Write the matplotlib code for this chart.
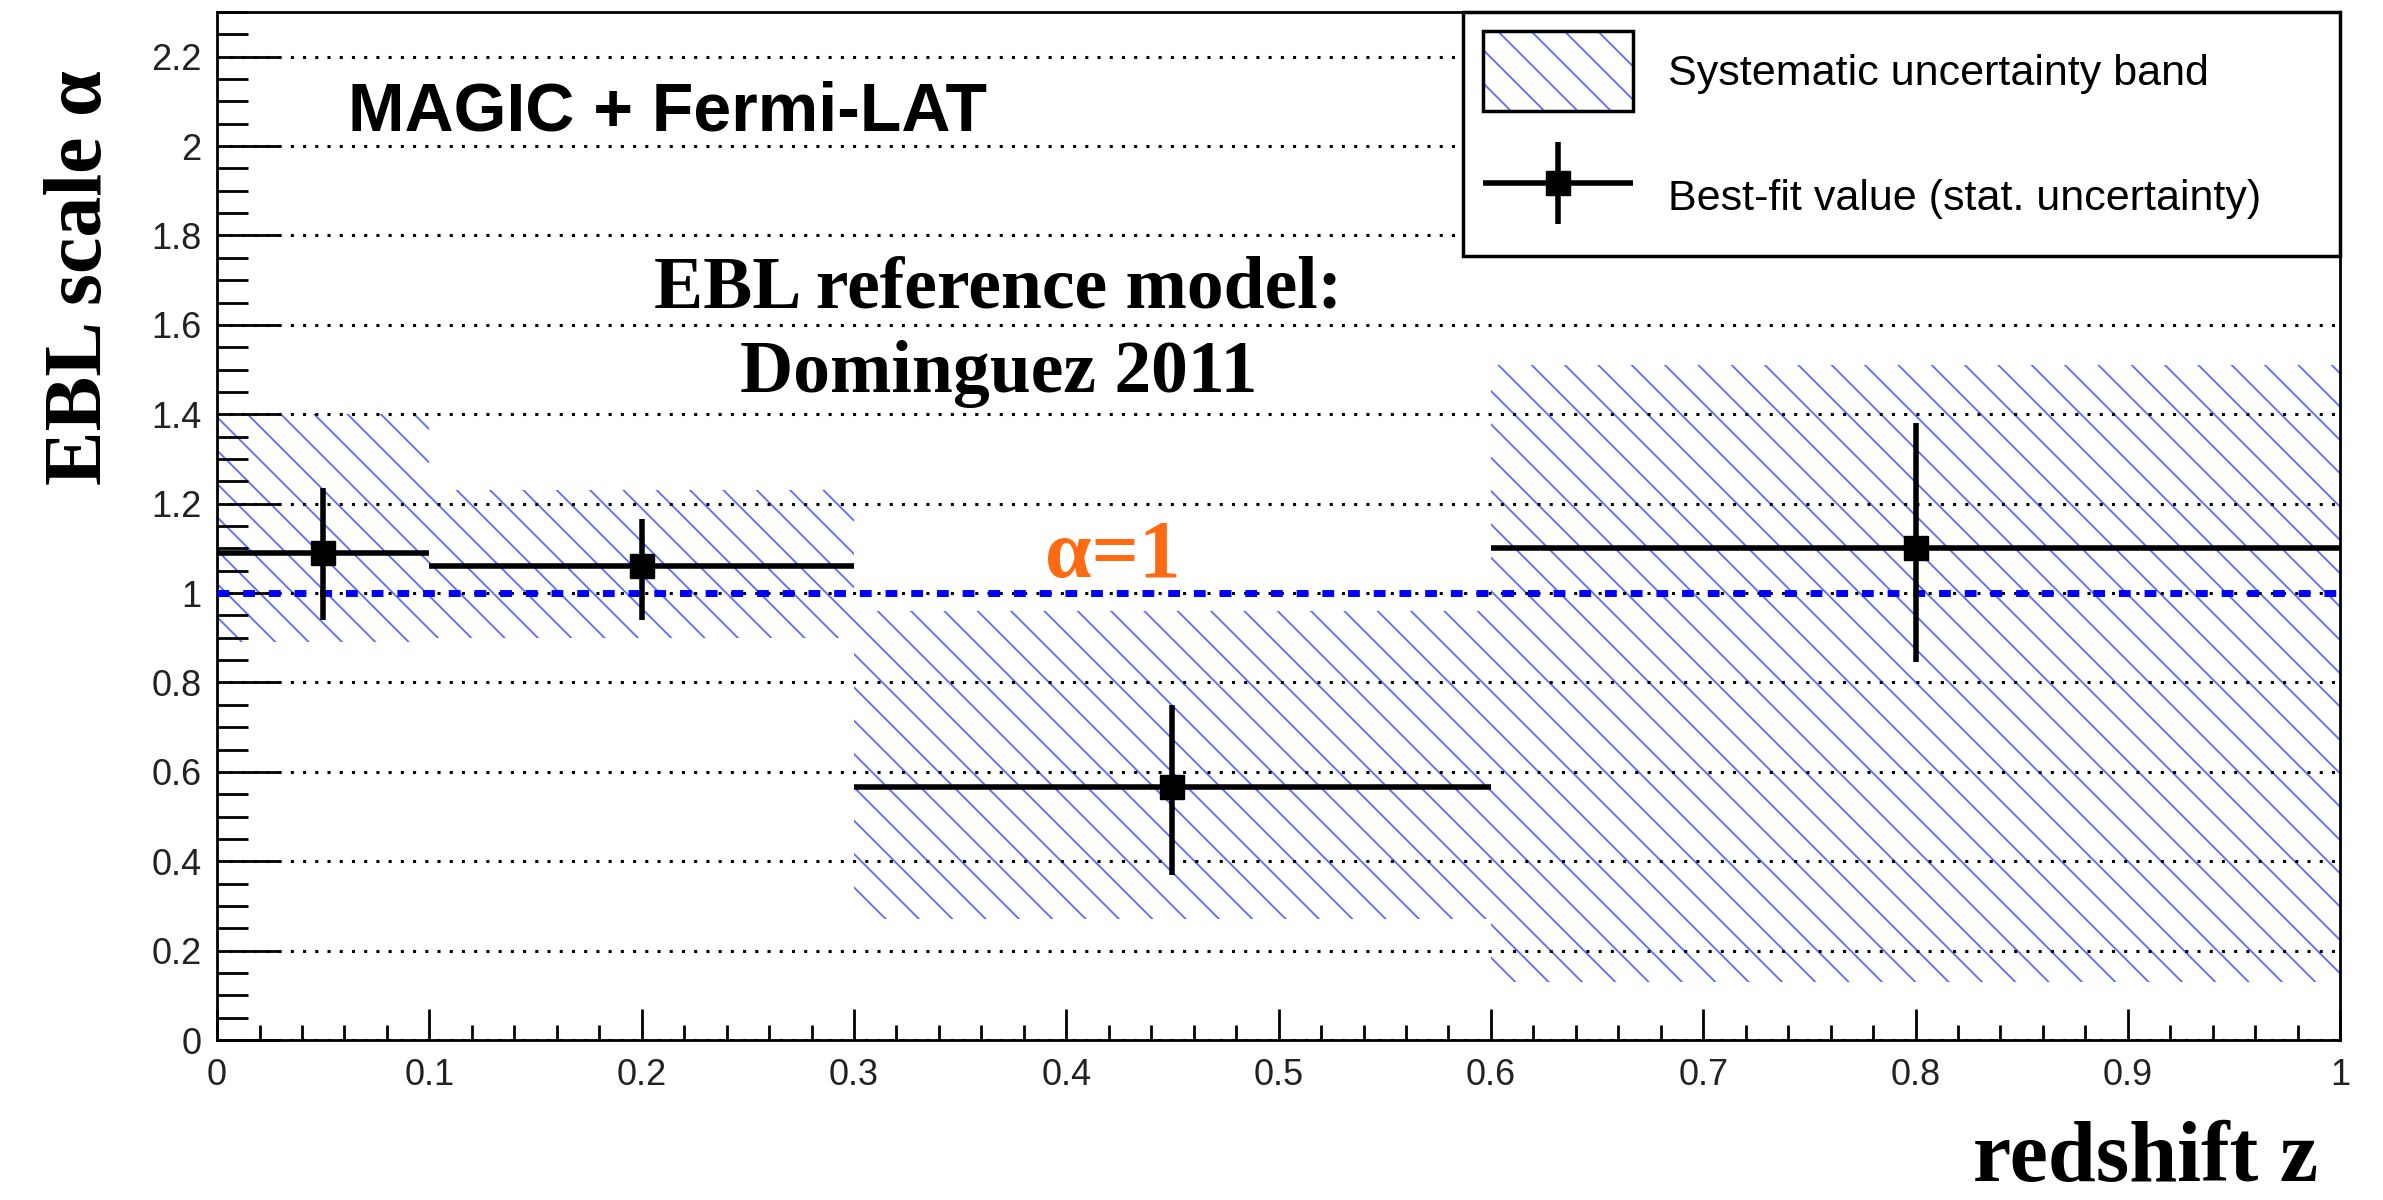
import numpy as np
import matplotlib.pyplot as plt
from matplotlib.patches import Patch
from matplotlib.container import ErrorbarContainer
from matplotlib.legend_handler import HandlerErrorbar, HandlerTuple
from matplotlib.ticker import MultipleLocator, FuncFormatter

# redshift bins
z_lo = [0.0, 0.1, 0.3, 0.6]
z_hi = [0.1, 0.3, 0.6, 1.0]
z_mid = [0.05, 0.2, 0.45, 0.8]
# best-fit EBL scale and stat. errors
alpha_best = [1.09, 1.06, 0.565, 1.10]
stat_lo = [0.15, 0.12, 0.195, 0.255]
stat_hi = [0.145, 0.105, 0.185, 0.28]
# systematic band
sys_lo = [0.89, 0.90, 0.27, 0.13]
sys_hi = [1.40, 1.23, 0.96, 1.51]

hatch_col = '#5b6cff'
plt.rcParams['font.family'] = ['Liberation Sans', 'DejaVu Sans']
plt.rcParams['hatch.linewidth'] = 1.3

fig = plt.figure(figsize=(23.83, 12.0), dpi=100)
ax = fig.add_axes([0.0911, 0.1333, 0.8909, 0.8567])

widths = np.array(z_hi) - np.array(z_lo)
heights = np.array(sys_hi) - np.array(sys_lo)
ax.bar(z_lo, heights, width=widths, bottom=sys_lo, align='edge',
       facecolor='none', edgecolor=hatch_col, linewidth=0, hatch='\\', zorder=1)

ax.yaxis.grid(True, which='major', color='black', linestyle=(0, (1, 3)), linewidth=2.2)
ax.axhline(1.0, color='#0000ff', linewidth=5, linestyle=(0, (1.7, 2.0)), zorder=3)

xerr = np.array(z_hi) - np.array(z_mid)
eb = ax.errorbar(z_mid, alpha_best, xerr=xerr, yerr=[stat_lo, stat_hi], fmt='s',
                 color='black', markersize=17, elinewidth=4, capsize=0, zorder=4)

ax.set_xlim(0, 1)
ax.set_ylim(0, 2.3)
ax.xaxis.set_major_locator(MultipleLocator(0.1))
ax.xaxis.set_minor_locator(MultipleLocator(0.02))
ax.yaxis.set_major_locator(MultipleLocator(0.2))
ax.yaxis.set_minor_locator(MultipleLocator(0.05))
fmt = FuncFormatter(lambda v, p: f'{v:g}')
ax.xaxis.set_major_formatter(fmt)
ax.yaxis.set_major_formatter(fmt)
ax.tick_params(axis='y', which='major', direction='in', length=45, width=2, pad=11,
               labelsize=26, labelcolor='#222222')
ax.tick_params(axis='y', which='minor', direction='in', length=22, width=2)
ax.tick_params(axis='x', which='major', direction='in', length=22, width=2, pad=13,
               labelsize=26, labelcolor='#222222')
ax.tick_params(axis='x', which='minor', direction='in', length=11, width=2)
for s in ax.spines.values():
    s.set_linewidth(2)

sys_handle = (Patch(facecolor='white', edgecolor=hatch_col, hatch='\\', linewidth=0),
              Patch(facecolor='none', edgecolor='black', linewidth=2.5))
leg = ax.legend([sys_handle, eb],
                ['Systematic uncertainty band', 'Best-fit value (stat. uncertainty)'],
                handler_map={tuple: HandlerTuple(ndivide=1),
                             ErrorbarContainer: HandlerErrorbar(xerr_size=1.75, yerr_size=0.95)},
                loc='upper right', bbox_to_anchor=(0.587, 0, 0.413, 1.0), mode='expand',
                borderaxespad=0, prop={'family': 'Liberation Sans', 'size': 31},
                handlelength=3.5, handleheight=2.48, handletextpad=0.8, labelspacing=1.05,
                borderpad=0.45, fancybox=False, framealpha=1, edgecolor='black')
leg.get_frame().set_linewidth(2.5)

ax.text(0.0615, 2.035, 'MAGIC + Fermi-LAT', fontsize=49, fontweight='bold',
        ha='left', va='baseline')
ax.text(0.368, 1.64, 'EBL reference model:', family='Liberation Serif', fontweight='bold',
        fontsize=53, ha='center', va='baseline')
ax.text(0.368, 1.45, 'Dominguez 2011', family='Liberation Serif', fontweight='bold',
        fontsize=53, ha='center', va='baseline')
ax.text(0.422, 1.037, 'α=1', color='#ff6a13', family='Liberation Serif', fontweight='bold',
        fontsize=60, ha='center', va='baseline')

fig.text(0.034, 0.769, 'EBL scale α', rotation=90, ha='center', va='center',
         family='Liberation Serif', fontweight='bold', fontsize=59)
fig.text(0.9727, 0.016, 'redshift z', ha='right', va='baseline',
         family='Liberation Serif', fontweight='bold', fontsize=62)

fig.savefig('out.png', dpi=100)
